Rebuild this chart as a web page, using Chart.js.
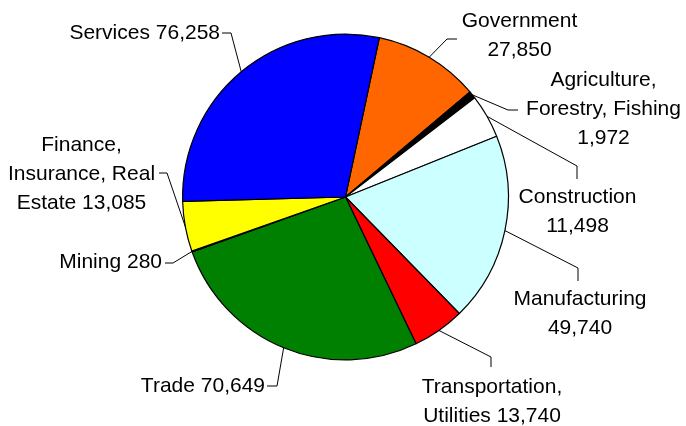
<!DOCTYPE html>
<html>
<head>
<meta charset="utf-8">
<script src="https://cdn.jsdelivr.net/npm/chart.js@4"></script>
<style>
  html, body { margin: 0; padding: 0; background: #ffffff; }
  #wrap { width: 686px; height: 426px; }
</style>
</head>
<body>
<div id="wrap"><canvas id="c" width="686" height="426"></canvas></div>
<script>
// ---- Data ----
const categories = ['Government', 'Agriculture, Forestry, Fishing', 'Construction', 'Manufacturing',
  'Transportation, Utilities', 'Trade', 'Mining', 'Finance, Insurance, Real Estate', 'Services'];
const values = [27850, 1972, 11498, 49740, 13740, 70649, 280, 13085, 76258];
const sliceColors = ['#FF6600', '#000000', '#FFFFFF', '#CCFFFF', '#FF0000', '#008000', '#800080', '#FFFF00', '#0000FF'];
// label line templates ({v} = formatted value)
const labelLines = [
  ['Government', '{v}'],
  ['Agriculture,', 'Forestry, Fishing', '{v}'],
  ['Construction', '{v}'],
  ['Manufacturing', '{v}'],
  ['Transportation,', 'Utilities {v}'],
  ['Trade {v}'],
  ['Mining {v}'],
  ['Finance,', 'Insurance, Real', 'Estate {v}'],
  ['Services {v}']
];

// ---- Label layout (text anchor + leader bend/end points) ----
const labelLayout = [
  { tx: 519.5, ty: 21,  align: 'center', bend: [447, 39],  end: [457, 39] },
  { tx: 603.5, ty: 80,  align: 'center', bend: [508, 110], end: [518, 110] },
  { tx: 577.5, ty: 197, align: 'center', bend: [577, 166], end: [577, 179] },
  { tx: 580,   ty: 299, align: 'center', bend: [578, 268], end: [578, 281] },
  { tx: 492,   ty: 387, align: 'center', bend: [491, 357], end: [491, 367] },
  { tx: 265,   ty: 386, align: 'right',  bend: [277, 386], end: [267, 386] },
  { tx: 162,   ty: 262, align: 'right',  bend: [173, 263], end: [165, 263] },
  { tx: 81.5,  ty: 145, align: 'center', bend: [167, 173], end: [159, 173] },
  { tx: 220,   ty: 33,  align: 'right',  bend: [231, 33],  end: [222, 33] }
];
const lineHeight = 29;
const fontSpec = '21px "Liberation Sans", Arial, sans-serif';

const fmt = v => v.toLocaleString('en-US');

const labelPlugin = {
  id: 'leaderLabels',
  afterDatasetsDraw(chart) {
    const ctx = chart.ctx;
    const meta = chart.getDatasetMeta(0);
    ctx.save();
    ctx.font = fontSpec;
    ctx.fillStyle = '#000000';
    ctx.strokeStyle = '#000000';
    ctx.lineWidth = 1;
    ctx.textBaseline = 'middle';
    meta.data.forEach((arc, i) => {
      const p = arc.getProps(['x', 'y', 'startAngle', 'endAngle', 'outerRadius'], true);
      const mid = (p.startAngle + p.endAngle) / 2;
      const sx = p.x + Math.cos(mid) * p.outerRadius;
      const sy = p.y + Math.sin(mid) * p.outerRadius;
      const L = labelLayout[i];
      ctx.beginPath();
      ctx.moveTo(sx, sy);
      ctx.lineTo(L.bend[0], L.bend[1]);
      ctx.lineTo(L.end[0], L.end[1]);
      ctx.stroke();
      ctx.textAlign = L.align;
      labelLines[i].forEach((t, k) => {
        ctx.fillText(t.replace('{v}', fmt(values[i])), L.tx, L.ty + k * lineHeight);
      });
    });
    ctx.restore();
  }
};

new Chart(document.getElementById('c'), {
  type: 'pie',
  data: {
    labels: categories,
    datasets: [{
      data: values,
      backgroundColor: sliceColors,
      borderColor: '#000000',
      borderWidth: 1.2
    }]
  },
  options: {
    responsive: false,
    animation: false,
    rotation: 12,
    layout: { padding: { top: 33.5, bottom: 65.5, left: 182, right: 177 } },
    plugins: {
      legend: { display: false },
      tooltip: { enabled: false }
    }
  },
  plugins: [labelPlugin]
});
</script>
</body>
</html>
